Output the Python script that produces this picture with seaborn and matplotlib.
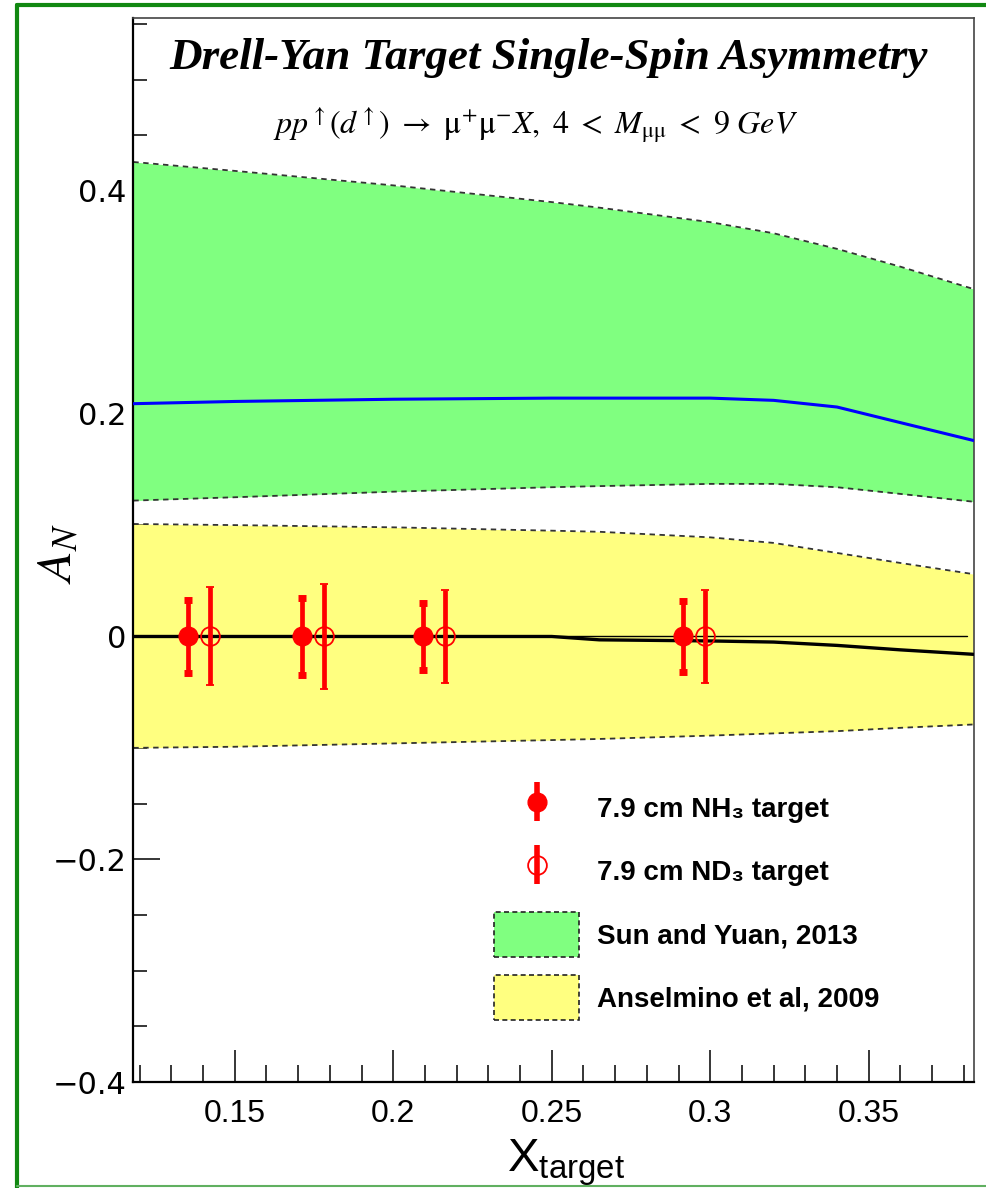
import numpy as np
import pandas as pd
import matplotlib
matplotlib.use("Agg")
import matplotlib.pyplot as plt
import matplotlib.patches as mpatches
from matplotlib.lines import Line2D
from matplotlib.legend_handler import HandlerErrorbar
from matplotlib.ticker import MultipleLocator
import seaborn as sns

# ---------------- data ----------------
theory_x = [0.118, 0.15, 0.20, 0.25, 0.265, 0.30, 0.32, 0.34, 0.36, 0.383]
sun_upper = [0.426, 0.418, 0.405, 0.390, 0.385, 0.372, 0.362, 0.348, 0.332, 0.312]
sun_lower = [0.122, 0.125, 0.130, 0.134, 0.135, 0.137, 0.137, 0.134, 0.128, 0.121]
sun_central = [0.209, 0.211, 0.213, 0.214, 0.214, 0.214, 0.212, 0.206, 0.192, 0.176]
ans_upper = [0.101, 0.100, 0.098, 0.095, 0.094, 0.089, 0.084, 0.075, 0.066, 0.056]
ans_lower = [-0.100, -0.099, -0.096, -0.093, -0.092, -0.089, -0.087, -0.085, -0.082, -0.079]
ans_central = [0.0, 0.0, 0.0, 0.0, -0.003, -0.004, -0.005, -0.008, -0.012, -0.016]

zero_x = [0.118, 0.381]
zero_y = [0.0, 0.0]

nh3_x = [0.1353, 0.1712, 0.2094, 0.2914]
nh3_y = [0.0, 0.0, 0.0, 0.0]
nh3_err = [0.033, 0.0345, 0.030, 0.0315]

nd3_x = [0.1422, 0.1782, 0.2163, 0.2983]
nd3_y = [0.0, 0.0, 0.0, 0.0]
nd3_err = [0.044, 0.047, 0.042, 0.042]

x_major = [0.15, 0.20, 0.25, 0.30, 0.35]
x_labels = ["0.15", "0.2", "0.25", "0.3", "0.35"]
y_major = [-0.4, -0.2, 0.0, 0.2, 0.4]
y_labels = ["\u22120.4", "\u22120.2", "0", "0.2", "0.4"]

legend_labels = ["7.9 cm NH\u2083 target", "7.9 cm ND\u2083 target",
                 "Sun and Yuan, 2013", "Anselmino et al, 2009"]

GREEN = "#80ff80"
YELLOW = "#ffff80"
RED = "#ff0000"
BLUE = "#0000ff"

# ---------------- style ----------------
sns.set_theme(style="white")
plt.rcParams["font.family"] = ["Liberation Sans", "DejaVu Sans"]
plt.rcParams["axes.unicode_minus"] = True
for k in ["text.color", "axes.labelcolor", "xtick.color", "ytick.color"]:
    plt.rcParams[k] = "black"

fig = plt.figure(figsize=(9.86, 11.88), dpi=100)
ax = fig.add_axes([0.1352, 0.0892, 0.8526, 0.8954])

df = pd.DataFrame({"x": theory_x, "sun_up": sun_upper, "sun_lo": sun_lower,
                   "sun_c": sun_central, "ans_up": ans_upper, "ans_lo": ans_lower,
                   "ans_c": ans_central})

# bands
ax.fill_between(df["x"], df["sun_lo"], df["sun_up"], color=GREEN, lw=0, zorder=1)
ax.fill_between(df["x"], df["ans_lo"], df["ans_up"], color=YELLOW, lw=0, zorder=1)
for col in ["sun_up", "sun_lo", "ans_up", "ans_lo"]:
    sns.lineplot(data=df, x="x", y=col, ax=ax, color="#333333", lw=1.3,
                 linestyle=(0, (3, 2.5)), zorder=2)

sns.lineplot(data=df, x="x", y="sun_c", ax=ax, color=BLUE, lw=2.2, zorder=3)
sns.lineplot(data=df, x="x", y="ans_c", ax=ax, color="black", lw=2.4, zorder=3)
sns.lineplot(x=zero_x, y=zero_y, ax=ax, color="black", lw=1.0, zorder=3)

# data points
ax.errorbar(nh3_x, nh3_y, yerr=nh3_err, fmt="o", color=RED, ms=13.5,
            elinewidth=3.4, capsize=3, capthick=5, zorder=5)
ax.errorbar(nd3_x, nd3_y, yerr=nd3_err, fmt="o", mfc="none", mec=RED, mew=1.3,
            ecolor=RED, ms=13.5, elinewidth=3.4, capsize=3, capthick=5, zorder=5)

# axes
ax.set_xlim(0.118, 0.3832)
ax.set_ylim(-0.4, 0.555)
ax.set_xticks(x_major)
ax.set_xticklabels(x_labels, fontsize=23, family=["Liberation Sans", "DejaVu Sans"])
ax.xaxis.set_minor_locator(MultipleLocator(0.01))
ax.set_yticks(y_major)
ax.set_yticklabels(y_labels, fontsize=22, family=["DejaVu Sans"])
ax.yaxis.set_minor_locator(MultipleLocator(0.05))
ax.tick_params(axis="x", which="major", direction="in", length=23, width=1.1,
               color="black", pad=12, top=False, bottom=True)
ax.tick_params(axis="x", which="minor", direction="in", length=12, width=1.1,
               color="black", top=False, bottom=True)
ax.tick_params(axis="y", which="major", direction="in", length=19.5, width=1.1,
               color="black", pad=5, right=False, left=True)
ax.tick_params(axis="y", which="minor", direction="in", length=10, width=1.1,
               color="black", right=False, left=True)
for s in ["left", "bottom"]:
    ax.spines[s].set_color("black")
    ax.spines[s].set_linewidth(1.6)
for s in ["top", "right"]:
    ax.spines[s].set_color("#444444")
    ax.spines[s].set_linewidth(1.2)
ax.set_facecolor("white")

ax.set_xlabel(r"X$_{\mathregular{target}}$", fontsize=34,
              family=["Liberation Sans", "DejaVu Sans"])
ax.xaxis.set_label_coords(0.515, -0.052)
ax.set_ylabel(r"$A_N$", fontsize=36, math_fontfamily="stix")
ax.yaxis.set_label_coords(-0.062, 0.497)

# title & subtitle
fig.text(0.556, 0.951, "Drell-Yan Target Single-Spin Asymmetry",
         family="Liberation Serif", style="italic", weight="bold",
         fontsize=32.5, ha="center", va="center")
fig.text(0.543, 0.895,
         r"$pp^{\uparrow}(d^{\uparrow})\ \rightarrow\ \mathrm{\mu^{+}\mu^{-}}X,\ 4\ <\ M_{\mathrm{\mu\mu}}\ <\ 9\ GeV$",
         math_fontfamily="stix", fontsize=23, ha="center", va="center")

# legend
h1 = ax.errorbar([], [], yerr=[], fmt="o", color=RED, ms=13.5, elinewidth=4, capsize=0)
h2 = ax.errorbar([], [], yerr=[], fmt="o", mfc="none", mec=RED, mew=1.3, ecolor=RED,
                 ms=13.5, elinewidth=4, capsize=0)
p1 = mpatches.Patch(facecolor=GREEN, edgecolor="#222222", linestyle=(0, (3, 2)), linewidth=1.2)
p2 = mpatches.Patch(facecolor=YELLOW, edgecolor="#222222", linestyle=(0, (3, 2)), linewidth=1.2)
leg = fig.legend([h1, h2, p1, p2], legend_labels,
                 loc="upper left", bbox_to_anchor=(0.501, 0.3384),
                 frameon=False, borderpad=0, borderaxespad=0,
                 handlelength=3.07, handleheight=2.13, labelspacing=0.64,
                 handletextpad=0.64,
                 prop=dict(family=["Liberation Sans", "DejaVu Sans"], weight="bold", size=20),
                 handler_map={type(h1): HandlerErrorbar(yerr_size=0.7)})

# green frame of the figure
fig.add_artist(Line2D([17 / 986, 1.0], [1 - 5 / 1188, 1 - 5 / 1188],
                      transform=fig.transFigure, color="#118811", lw=3))
fig.add_artist(Line2D([17 / 986, 17 / 986], [0.0, 1 - 5 / 1188],
                      transform=fig.transFigure, color="#118811", lw=3))
fig.add_artist(Line2D([17 / 986, 1.0], [1 - 1186 / 1188, 1 - 1186 / 1188],
                      transform=fig.transFigure, color="#60b060", lw=1.5))

fig.savefig("out.png", dpi=100)
